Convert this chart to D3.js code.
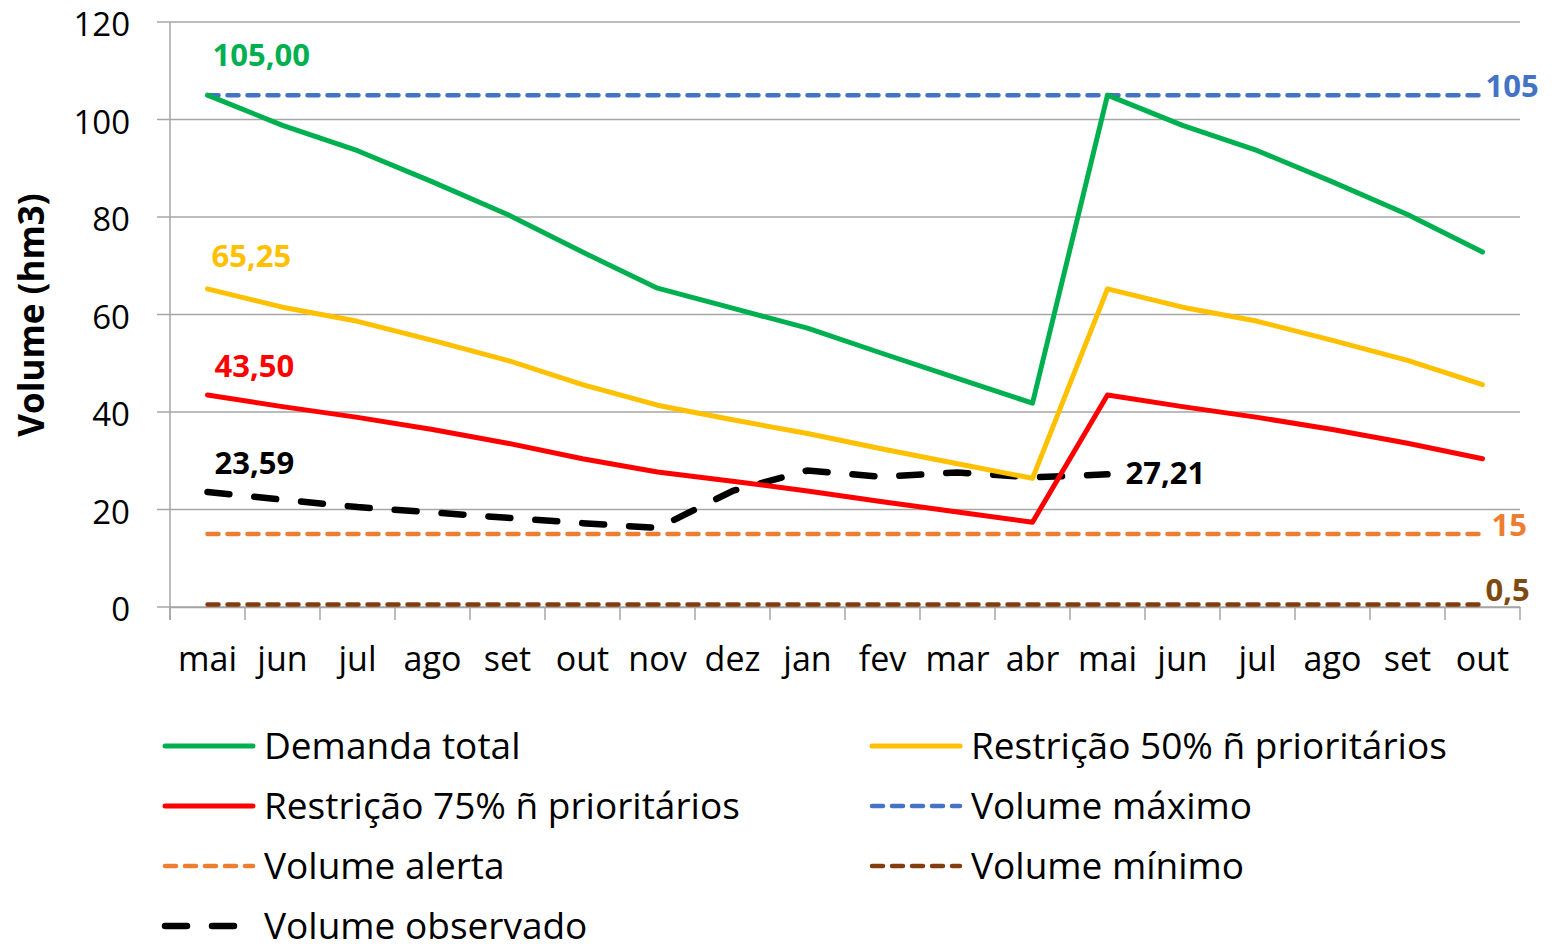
<!DOCTYPE html>
<html>
<head>
<meta charset="utf-8">
<script src="https://cdn.jsdelivr.net/npm/d3@7"></script>
<style>
  body { margin: 0; background: #fff; }
  text { font-family: "Open Sans", "Noto Sans", sans-serif; }
</style>
</head>
<body>
<script>
// month labels (two hydrological years)
const months = ["mai","jun","jul","ago","set","out","nov","dez","jan","fev","mar","abr",
                "mai","jun","jul","ago","set","out"];
const yTicks = [0, 20, 40, 60, 80, 100, 120];

const demandaTotal = [105, 98.8, 93.6, 87.2, 80.5, 72.8, 65.4, 61.3, 57.2, 52, 46.9, 41.8,
                      105, 98.8, 93.6, 87.2, 80.5, 72.8];
const restricao50  = [65.25, 61.5, 58.6, 54.7, 50.6, 45.6, 41.4, 38.4, 35.6, 32.4, 29.4, 26.4,
                      65.25, 61.5, 58.6, 54.7, 50.6, 45.6];
const restricao75  = [43.5, 41.1, 38.9, 36.4, 33.6, 30.4, 27.7, 25.8, 23.8, 21.6, 19.5, 17.4,
                      43.5, 41.1, 38.9, 36.4, 33.6, 30.4];
const volObservado = [23.59, 22.0, 20.5, 19.4, 18.3, 17.2, 16.2, 23.8, 28.0, 26.7, 27.6, 26.6, 27.21];
const volMaximo = 105;
const volAlerta = 15;
const volMinimo = 0.5;

const W = 1555, H = 951;
const margin = {top: 22, right: 35, bottom: 344, left: 170};

const svg = d3.select("body").append("svg")
    .attr("width", W)
    .attr("height", H);

const x = d3.scaleBand()
    .domain(d3.range(months.length))
    .range([margin.left, W - margin.right]);

const y = d3.scaleLinear()
    .domain([0, 120])
    .range([H - margin.bottom, margin.top]);

const cx = i => x(i) + x.bandwidth() / 2;

// gridlines
svg.append("g")
    .selectAll("line")
    .data(yTicks)
    .join("line")
    .attr("x1", margin.left - 13)
    .attr("x2", W - margin.right)
    .attr("y1", d => y(d))
    .attr("y2", d => y(d))
    .attr("stroke", "#a6a6a6")
    .attr("stroke-width", 1.5);

// y axis
const yAxis = svg.append("g")
    .attr("transform", "translate(" + margin.left + ",0)")
    .call(d3.axisLeft(y).tickValues(yTicks).tickSize(0).tickPadding(40));
yAxis.select(".domain").attr("stroke", "#a6a6a6").attr("stroke-width", 1.5)
    .attr("d", "M0," + y(120) + "V" + (y(0) + 13));
yAxis.selectAll("text").attr("font-size", 33).attr("fill", "#000")
    .attr("dy", "0.41em")
    .style("font-family", "Open Sans");

// x axis
const xAxis = svg.append("g")
    .attr("transform", "translate(0," + y(0) + ")")
    .call(d3.axisBottom(x).tickFormat(i => months[i]).tickSize(0).tickPadding(40));
xAxis.select(".domain").attr("stroke", "#a6a6a6").attr("stroke-width", 1.5);
xAxis.selectAll("text").attr("font-size", 34).attr("fill", "#000")
    .style("font-family", "Open Sans");
// boundary tick marks
xAxis.append("g")
    .selectAll("line")
    .data(d3.range(months.length + 1))
    .join("line")
    .attr("x1", i => i < months.length ? x(i) : x(i - 1) + x.bandwidth())
    .attr("x2", i => i < months.length ? x(i) : x(i - 1) + x.bandwidth())
    .attr("y1", 0)
    .attr("y2", 13)
    .attr("stroke", "#a6a6a6")
    .attr("stroke-width", 1.5);

// y title
svg.append("text")
    .attr("transform", "translate(44,315) rotate(-90)")
    .attr("text-anchor", "middle")
    .attr("font-size", 35)
    .attr("font-weight", "bold")
    .text("Volume (hm3)");

const line = d3.line().x((d, i) => cx(i)).y(d => y(d));

// constant reference lines
const refLines = [
  {v: volMinimo, color: "#843C0C", label: "0,5", lc: "#7F4A10", dx: 3, dy: -4},
  {v: volAlerta, color: "#ED7D31", label: "15", lc: "#ED7D31", dx: 9, dy: 2},
  {v: volMaximo, color: "#4472C4", label: "105", lc: "#4472C4", dx: 3, dy: 2}
];
refLines.forEach(r => {
  svg.append("path")
      .attr("d", line(months.map(() => r.v)))
      .attr("fill", "none")
      .attr("stroke", r.color)
      .attr("stroke-width", 4.5)
      .attr("stroke-dasharray", "11,9")
      .attr("stroke-linecap", "round");
});

const series = [
  {data: restricao75, color: "#FF0000"},
  {data: restricao50, color: "#FFC000"},
  {data: demandaTotal, color: "#00B050"}
];

// observed
svg.append("path")
    .attr("d", line(volObservado))
    .attr("fill", "none")
    .attr("stroke", "#000")
    .attr("stroke-width", 6.5)
    .attr("stroke-dasharray", "22,25")
    .attr("stroke-linecap", "round");

series.forEach(s => {
  svg.append("path")
      .attr("d", line(s.data))
      .attr("fill", "none")
      .attr("stroke", s.color)
      .attr("stroke-width", 5)
      .attr("stroke-linejoin", "round")
      .attr("stroke-linecap", "round");
});

// data labels
const fmt = v => v.toFixed(2).replace(".", ",");
const labels = [
  {txt: fmt(demandaTotal[0]), x: cx(0) + 5, y: y(demandaTotal[0]) - 29, c: "#00B050"},
  {txt: fmt(restricao50[0]), x: cx(0) + 4, y: y(restricao50[0]) - 22, c: "#FFC000"},
  {txt: fmt(restricao75[0]), x: cx(0) + 7, y: y(restricao75[0]) - 18, c: "#FF0000"},
  {txt: fmt(volObservado[0]), x: cx(0) + 7, y: y(volObservado[0]) - 18, c: "#000"},
  {txt: fmt(volObservado[12]), x: cx(12) + 18, y: y(volObservado[12]) + 10, c: "#000"}
];
refLines.forEach(r => {
  labels.push({txt: r.label, x: cx(17) + r.dx, y: y(r.v) + r.dy, c: r.lc});
});
svg.append("g")
    .selectAll("text")
    .data(labels)
    .join("text")
    .attr("x", d => d.x)
    .attr("y", d => d.y)
    .attr("fill", d => d.c)
    .attr("font-size", 31)
    .attr("font-weight", "bold")
    .text(d => d.txt);

// legend
const legend = [
  {name: "Demanda total", color: "#00B050", w: 5, dash: null, col: 0, row: 0},
  {name: "Restrição 50% ñ prioritários", color: "#FFC000", w: 5, dash: null, col: 1, row: 0},
  {name: "Restrição 75% ñ prioritários", color: "#FF0000", w: 5, dash: null, col: 0, row: 1},
  {name: "Volume máximo", color: "#4472C4", w: 4.5, dash: "11,9", col: 1, row: 1},
  {name: "Volume alerta", color: "#ED7D31", w: 4.5, dash: "11,9", col: 0, row: 2},
  {name: "Volume mínimo", color: "#843C0C", w: 4.5, dash: "11,9", col: 1, row: 2},
  {name: "Volume observado", color: "#000", w: 6.5, dash: "22,25", col: 0, row: 3}
];
const lg = svg.append("g")
    .selectAll("g")
    .data(legend)
    .join("g")
    .attr("transform", d => "translate(" + (165 + d.col * 707) + "," + (746 + d.row * 60) + ")");
lg.append("line")
    .attr("x1", 0).attr("x2", 88)
    .attr("stroke", d => d.color)
    .attr("stroke-width", d => d.w)
    .attr("stroke-dasharray", d => d.dash)
    .attr("stroke-linecap", "round");
lg.append("text")
    .attr("x", 99)
    .attr("dy", "0.36em")
    .attr("font-size", 37)
    .text(d => d.name);
</script>
</body>
</html>
